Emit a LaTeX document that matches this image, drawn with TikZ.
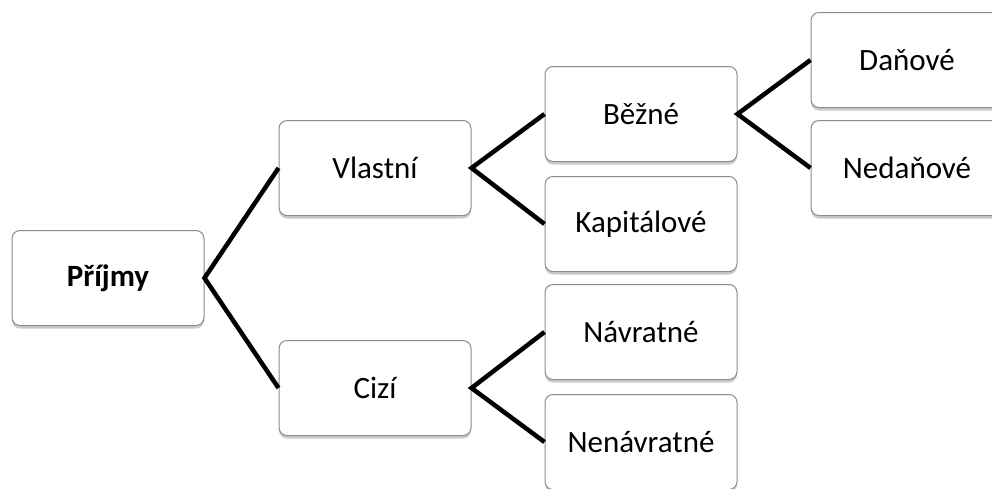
\documentclass[tikz,border=0pt]{standalone}
\usepackage{fontspec}
\setmainfont{Carlito}
\usetikzlibrary{shadows}
\begin{document}
\begin{tikzpicture}[x=1pt,y=-1pt,
  box/.style={draw=black!45, line width=1pt, fill=white, rounded corners=8pt,
    minimum width=192pt, minimum height=95pt, inner sep=0pt,
    font=\fontsize{31}{36}\selectfont,
    drop shadow={shadow xshift=0pt, shadow yshift=-3pt, opacity=0.35, fill=black!60}},
  link/.style={line width=4.5pt, black}]
\useasboundingbox (0,0) rectangle (992,488);
\node[box, font=\fontsize{31}{36}\selectfont\bfseries] (prijmy) at (108,278) {Příjmy};
\node[box] (vlastni) at (375,168) {Vlastní};
\node[box] (cizi) at (375,388) {Cizí};
\node[box] (bezne) at (641,114) {Běžné};
\node[box] (kapital) at (641,224) {Kapitálové};
\node[box] (navrat) at (641,332) {Návratné};
\node[box] (nenavrat) at (641,442) {Nenávratné};
\node[box] (danove) at (907,60) {Daňové};
\node[box] (nedanove) at (907,168) {Nedaňové};
\draw[link] (vlastni.west) -- (prijmy.east) -- (cizi.west);
\draw[link] (bezne.west) -- (vlastni.east) -- (kapital.west);
\draw[link] (navrat.west) -- (cizi.east) -- (nenavrat.west);
\draw[link] (danove.west) -- (bezne.east) -- (nedanove.west);
\end{tikzpicture}
\end{document}
